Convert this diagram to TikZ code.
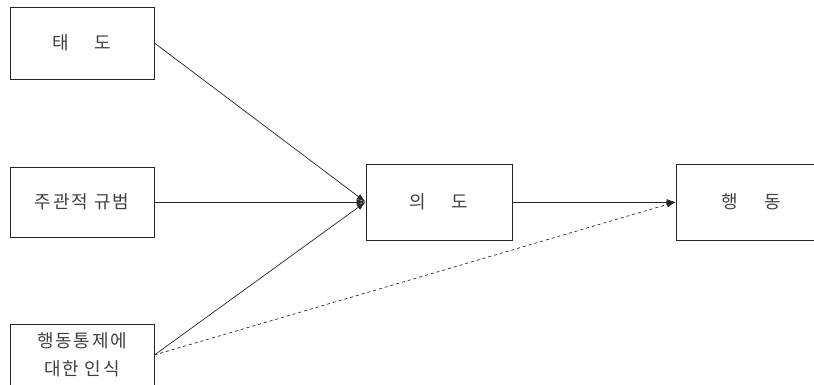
\documentclass[tikz,border=0pt]{standalone}
\usepackage{fontspec}
\setmainfont{Noto Sans CJK KR}[LetterSpace=10]
\usetikzlibrary{arrows.meta}
\begin{document}
\begin{tikzpicture}[x=1pt,y=-1pt,
  box/.style={draw=black!85,line width=0.8pt,rectangle,inner sep=0pt,align=center,text=black!75,font=\fontsize{18pt}{28pt}\selectfont},
  conn/.style={draw=black!85,line width=0.7pt,-{Latex[length=9pt,width=6pt]}}]
\useasboundingbox (0,0) rectangle (814,385);
\node[box,minimum width=144pt,minimum height=72pt] (b1) at (82,43) {태\hspace{26pt}도};
\node[box,minimum width=144pt,minimum height=70pt] (b2) at (82,202) {주관적 규범};
\node[box,minimum width=144pt,minimum height=62pt] (b3) at (82,355) {행동통제에\\대한 인식};
\node[box,minimum width=146pt,minimum height=76pt] (b4) at (439,202) {의\hspace{26pt}도};
\node[box,minimum width=150pt,minimum height=76pt] (b5) at (751,202) {행\hspace{26pt}동};
\draw[conn] (b1.east) -- (b4.west);
\draw[conn] (b2.east) -- (b4.west);
\draw[conn] (b3.east) -- (b4.west);
\draw[conn] (b4.east) -- (b5.west);
\draw[conn,dashed] (b3.east) -- (b5.west);
\end{tikzpicture}
\end{document}
